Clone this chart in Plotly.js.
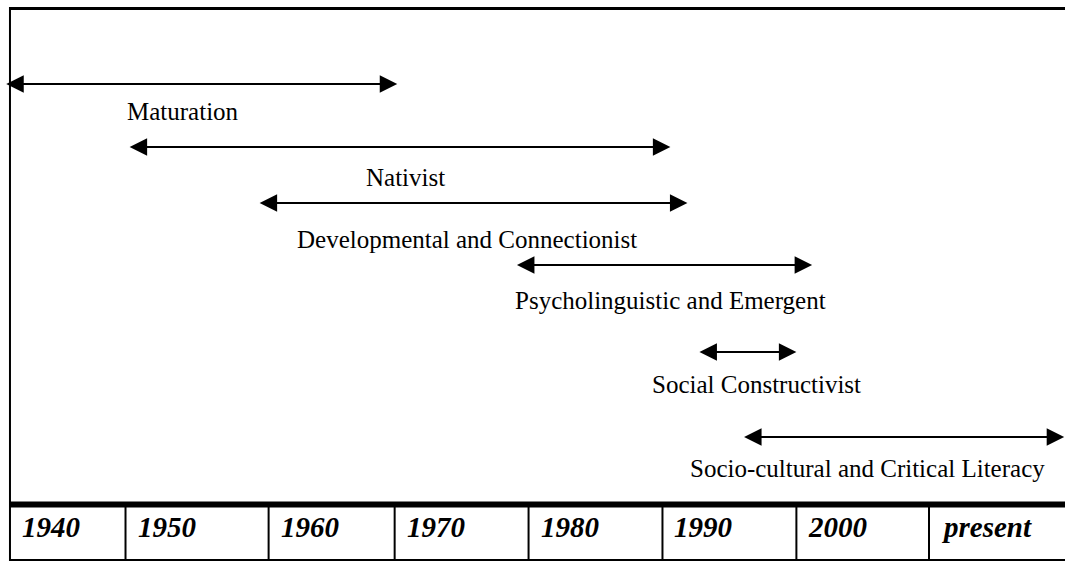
<!DOCTYPE html>
<html>
<head>
<meta charset="utf-8">
<script src="https://cdn.plot.ly/plotly-3.0.1.min.js"></script>
<style>html,body{margin:0;padding:0;background:#fff;}#chart{width:1065px;height:562px;}</style>
</head>
<body>
<div id="chart"></div>
<script>
// Theories (timeline rows), start / end years of each arrow
const theories = ['Maturation', 'Nativist', 'Developmental and Connectionist',
  'Psycholinguistic and Emergent', 'Social Constructivist', 'Socio-cultural and Critical Literacy'];
const startYear = [1939.6, 1949.0, 1958.9, 1978.5, 1992.4, 1995.8];
const endYear   = [1969.5, 1990.3, 1991.6, 2001.1, 1999.9, 2020.3];
// year at the centre of each theory's caption
const labelYear = [1953.2, 1970.1, 1974.8, 1990.3, 1996.85, 2005.3];
// vertical lanes (0 = top of page, 562 = bottom)
const laneY  = [84, 147, 203, 265, 352, 437];
const labelY = [111, 177, 239, 300, 384, 468];

// Timeline table along the bottom
const periodLabels = ['1940', '1950', '1960', '1970', '1980', '1990', '2000', 'present'];
const periodStart  = [1940, 1948.8, 1959.7, 1969.3, 1979.5, 1989.7, 1999.9, 2010];

const X0 = 1939.24, X1 = 2020.36;
const annotations = [];
const shapes = [];

theories.forEach((name, i) => {
  annotations.push({
    x: endYear[i], y: laneY[i], ax: startYear[i], ay: laneY[i],
    xref: 'x', yref: 'y', axref: 'x', ayref: 'y',
    text: '', showarrow: true, arrowhead: 2, startarrowhead: 2,
    arrowside: 'end+start', arrowwidth: 2, arrowsize: 1.75, startarrowsize: 1.75,
    arrowcolor: '#000', standoff: 0, startstandoff: 0
  });
  annotations.push({
    x: labelYear[i], y: labelY[i], xref: 'x', yref: 'y',
    text: name, showarrow: false, xanchor: 'center', yanchor: 'middle',
    font: {family: 'Liberation Serif, Times New Roman, serif', size: 25, color: '#000'}
  });
});

periodLabels.forEach((lab, i) => {
  annotations.push({
    x: periodStart[i], y: 527, xref: 'x', yref: 'y', xshift: 10,
    text: lab, showarrow: false, xanchor: 'left', yanchor: 'middle',
    font: {family: 'Liberation Serif, Times New Roman, serif', size: 29, color: '#000',
           weight: 'bold', style: 'italic'}
  });
  if (i > 0) {
    shapes.push({type: 'line', xref: 'x', yref: 'y', x0: periodStart[i], x1: periodStart[i],
      y0: 505, y1: 561, line: {color: '#000', width: 2}});
  }
});

// frame
shapes.push({type: 'line', xref: 'x', yref: 'y', x0: 1940, x1: X1, y0: 8.5, y1: 8.5, line: {color: '#000', width: 3}});
shapes.push({type: 'line', xref: 'x', yref: 'y', x0: 1940, x1: 1940, y0: 7, y1: 561, line: {color: '#000', width: 2}});
shapes.push({type: 'line', xref: 'x', yref: 'y', x0: 1940, x1: X1, y0: 504.5, y1: 504.5, line: {color: '#000', width: 6}});
shapes.push({type: 'line', xref: 'x', yref: 'y', x0: 1940, x1: X1, y0: 560, y1: 560, line: {color: '#000', width: 2}});

const layout = {
  width: 1065, height: 562,
  margin: {l: 0, r: 0, t: 0, b: 0, pad: 0},
  paper_bgcolor: '#fff', plot_bgcolor: '#fff',
  showlegend: false,
  xaxis: {range: [X0, X1], visible: false, fixedrange: true},
  yaxis: {range: [562, 0], visible: false, fixedrange: true},
  annotations: annotations,
  shapes: shapes
};

Plotly.newPlot('chart', [{x: [], y: [], type: 'scatter', mode: 'lines'}], layout,
  {staticPlot: true, displayModeBar: false});
</script>
</body>
</html>
